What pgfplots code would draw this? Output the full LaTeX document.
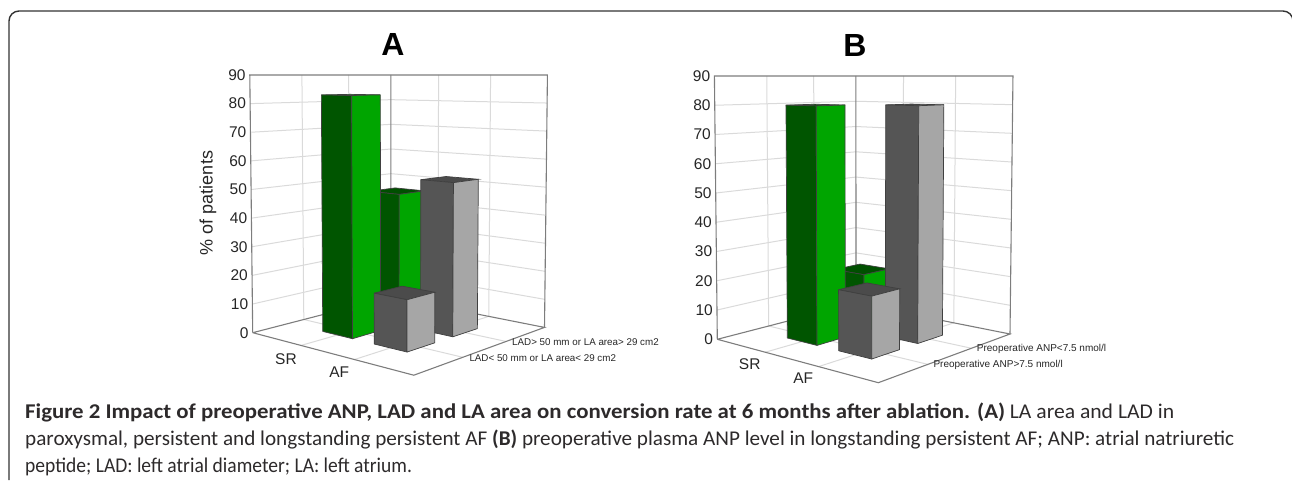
\documentclass[border=0pt]{standalone}
\usepackage{fontspec}
\setmainfont{Liberation Sans}
\newfontfamily\capfont{Carlito}
\usepackage{graphicx}
\usepackage{pgfplots}
\pgfplotsset{compat=1.18}

\definecolor{gDark}{RGB}{0,85,0}
\definecolor{gLight}{RGB}{0,165,0}
\definecolor{gTop}{RGB}{0,80,0}
\definecolor{kDark}{RGB}{85,85,85}
\definecolor{kLight}{RGB}{166,166,166}
\definecolor{kTop}{RGB}{75,75,75}
\definecolor{gridc}{RGB}{218,218,218}
\definecolor{boxc}{RGB}{125,125,125}
\definecolor{capc}{RGB}{45,42,43}

% floor corners (left, front, right, back), horizon, centre and lean of the verticals
\newcommand\setpanel[9]{%
  \edef\cLx{#1}\edef\cLy{#2}\edef\cFx{#3}\edef\cFy{#4}%
  \edef\cRx{#5}\edef\cRy{#6}\edef\cBx{#7}\edef\cBy{#8}\edef\hor{#9}%
  \edef\dxa{\fpeval{\cFx-\cRx}}\edef\dya{\fpeval{\cFy-\cRy}}%
  \edef\dxb{\fpeval{\cBx-\cRx}}\edef\dyb{\fpeval{\cBy-\cRy}}%
  \edef\sx{\fpeval{\cLx-\cFx+\cRx-\cBx}}\edef\sy{\fpeval{\cLy-\cFy+\cRy-\cBy}}%
  \edef\dt{\fpeval{\dxa*\dyb-\dxb*\dya}}%
  \edef\hg{\fpeval{(\sx*\dyb-\dxb*\sy)/\dt}}\edef\hh{\fpeval{(\dxa*\sy-\sx*\dya)/\dt}}%
  \edef\ha{\fpeval{\cFx-\cLx+\hg*\cFx}}\edef\hb{\fpeval{\cBx-\cLx+\hh*\cBx}}%
  \edef\hd{\fpeval{\cFy-\cLy+\hg*\cFy}}\edef\he{\fpeval{\cBy-\cLy+\hh*\cBy}}%
}
% x and y run 0..3 along the floor, z is the value 0..90
\newcommand\PX[3]{\fpeval{round(\vpx+((\ha*(#1)/3+\hb*(#2)/3+\cLx)/(\hg*(#1)/3+\hh*(#2)/3+1)-\vpx)*(1+\lean*(#3)/90),2)}}
\newcommand\PY[3]{\fpeval{round(\hor+((\hd*(#1)/3+\he*(#2)/3+\cLy)/(\hg*(#1)/3+\hh*(#2)/3+1)-\hor)*(1-(#3)/90),2)}}
\newcommand\pt[3]{(\PX{#1}{#2}{#3},\PY{#1}{#2}{#3}) }
\newcommand\poly[2]{\edef\tmp{\noexpand\addplot[#1] coordinates {#2};}\tmp}

\def\bw{0.295}
\newcommand\tbar[6]{%
  \edef\xa{\fpeval{#4-\bw}}\edef\xb{\fpeval{#4+\bw}}%
  \edef\ya{\fpeval{#5-\bw}}\edef\yb{\fpeval{#5+\bw}}%
  \poly{fill=#3,draw=black!75,line width=0.7pt}{\pt\xa\ya{#6}\pt\xb\ya{#6}\pt\xb\yb{#6}\pt\xa\yb{#6}\pt\xa\ya{#6}}%
  \poly{fill=#1,draw=black!75,line width=0.7pt}{\pt\xa\ya{0}\pt\xb\ya{0}\pt\xb\ya{#6}\pt\xa\ya{#6}\pt\xa\ya{0}}%
  \poly{fill=#2,draw=black!75,line width=0.7pt}{\pt\xb\ya{0}\pt\xb\yb{0}\pt\xb\yb{#6}\pt\xb\ya{#6}\pt\xb\ya{0}}%
}
\newcommand\walls{%
  \pgfplotsinvokeforeach{10,20,30,40,50,60,70,80}{%
    \poly{gridc,line width=1pt}{\pt{0}{0}{##1}\pt{0}{3}{##1}\pt{3}{3}{##1}}}%
  \pgfplotsinvokeforeach{1,2}{%
    \poly{gridc,line width=1pt}{\pt{0}{##1}{0}\pt{0}{##1}{90}}%
    \poly{gridc,line width=1pt}{\pt{##1}{3}{0}\pt{##1}{3}{90}}%
    \poly{gridc,line width=1pt}{\pt{0}{##1}{0}\pt{3}{##1}{0}}%
    \poly{gridc,line width=1pt}{\pt{##1}{0}{0}\pt{##1}{3}{0}}}%
  \poly{boxc,line width=1.1pt}{\pt{0}{0}{0}\pt{0}{0}{90}\pt{0}{3}{90}\pt{3}{3}{90}\pt{3}{3}{0}}%
  \poly{boxc,line width=1.1pt}{\pt{0}{3}{90}\pt{0}{3}{0}}%
  \poly{boxc,line width=1.1pt}{\pt{0}{0}{0}\pt{3}{0}{0}\pt{3}{3}{0}\pt{0}{3}{0}\pt{0}{0}{0}}%
  \pgfplotsinvokeforeach{0,10,20,30,40,50,60,70,80,90}{%
    \edef\tmp{\noexpand\node[anchor=east,inner sep=0pt,font=\noexpand\fontsize{15.5}{17}\noexpand\selectfont,text=black!85]
      at (axis cs:\fpeval{\PX{0}{0}{##1}-4},\PY{0}{0}{##1}) {##1};}\tmp}%
}

\begin{document}
\begin{tikzpicture}
\useasboundingbox (0,0) rectangle (1292pt,481pt);
\begin{axis}[
    at={(0pt,0pt)}, anchor=south west,
    scale only axis, width=1292pt, height=481pt,
    xmin=0, xmax=1292, ymin=0, ymax=481, y dir=reverse,
    hide axis, clip=false, no markers,
  ]
  % panel A
  \setpanel{252.7}{332.7}{413.8}{375.2}{544.5}{327.4}{391}{297}{75}
  \def\vpx{398}\def\lean{0.02}
  \walls
  \tbar{gDark}{gLight}{gTop}{1}{2}{47}
  \tbar{kDark}{kLight}{kTop}{2}{2}{53}
  \tbar{gDark}{gLight}{gTop}{1}{1}{83}
  \tbar{kDark}{kLight}{kTop}{2}{1}{17}
  \node[font=\fontsize{32}{34}\selectfont\bfseries] at (axis cs:393,44) {A};
  \node[rotate=90,font=\fontsize{18}{20}\selectfont,text=black!85] at (axis cs:208,203) {\% of patients};
  \node[font=\fontsize{15.5}{17}\selectfont,text=black!85] at (axis cs:286,358.7) {SR};
  \node[font=\fontsize{15.5}{17}\selectfont,text=black!85] at (axis cs:339.3,372.3) {AF};
  \node[anchor=west,inner sep=0pt,font=\fontsize{9.8}{11}\selectfont,text=black!85] at (axis cs:512,342.3) {LAD> 50 mm or LA area> 29 cm2};
  \node[anchor=west,inner sep=0pt,font=\fontsize{9.8}{11}\selectfont,text=black!85] at (axis cs:469.3,358.3) {LAD< 50 mm or LA area< 29 cm2};

  % panel B
  \setpanel{717.3}{339.3}{878.3}{382.7}{1010}{334}{856}{303.4}{76}
  \def\vpx{862}\def\lean{0.02}
  \walls
  \tbar{gDark}{gLight}{gTop}{1}{2}{20}
  \tbar{kDark}{kLight}{kTop}{2}{2}{80}
  \tbar{gDark}{gLight}{gTop}{1}{1}{80}
  \tbar{kDark}{kLight}{kTop}{2}{1}{20}
  \node[font=\fontsize{32}{34}\selectfont\bfseries] at (axis cs:855,45) {B};
  \node[font=\fontsize{15.5}{17}\selectfont,text=black!85] at (axis cs:749.7,363.7) {SR};
  \node[font=\fontsize{15.5}{17}\selectfont,text=black!85] at (axis cs:803.3,378.3) {AF};
  \node[anchor=west,inner sep=0pt,font=\fontsize{10}{11}\selectfont,text=black!85] at (axis cs:976.7,349) {Preoperative ANP<7.5 nmol/l};
  \node[anchor=west,inner sep=0pt,font=\fontsize{10}{11}\selectfont,text=black!85] at (axis cs:933.3,365.3) {Preoperative ANP>7.5 nmol/l};

  % frame and caption
  \draw[black!80,line width=1.4pt,rounded corners=10pt] (axis cs:9,480) -- (axis cs:9,11) -- (axis cs:1293,11) -- (axis cs:1293,40);
  \node[anchor=base west,inner sep=0pt,text=capc,font=\capfont\fontsize{21}{24}\selectfont] at (axis cs:25,418)
    {\scalebox{1.087}[1]{\textbf{Figure 2 Impact of preoperative ANP, LAD and LA area on conversion rate at 6 months after ablation. (A)}} \scalebox{1.03}[1]{LA area and LAD in}};
  \node[anchor=base west,inner sep=0pt,text=capc,font=\capfont\fontsize{21}{24}\selectfont] at (axis cs:25,445)
    {\scalebox{1.008}[1]{paroxysmal, persistent and longstanding persistent AF \textbf{(B)} preoperative plasma ANP level in longstanding persistent AF; ANP: atrial natriuretic}};
  \node[anchor=base west,inner sep=0pt,text=capc,font=\capfont\fontsize{21}{24}\selectfont] at (axis cs:25,472)
    {\scalebox{0.93}[1]{peptide; LAD: left atrial diameter; LA: left atrium.}};
\end{axis}
\end{tikzpicture}
\end{document}
